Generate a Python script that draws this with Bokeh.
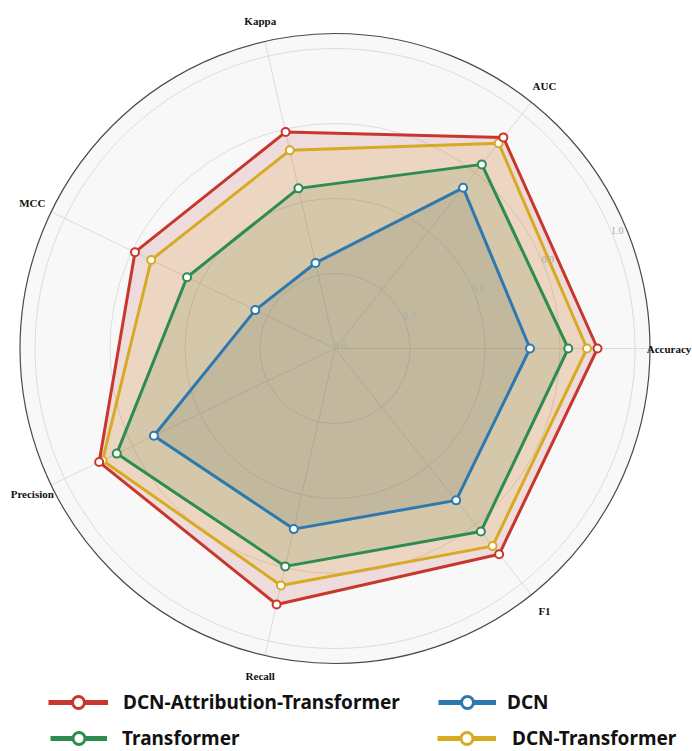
import math
from bokeh.plotting import figure
from bokeh.models import Range1d, Legend, LegendItem
from bokeh.core.properties import value
from bokeh.embed import file_html
from bokeh.resources import INLINE

# ---------------- data ----------------
categories = ["Accuracy", "AUC", "Kappa", "MCC", "Precision", "Recall", "F1"]
dcn_attr_transformer = [0.950, 0.960, 0.896, 0.896, 0.949, 0.950, 0.951]
dcn_transformer = [0.936, 0.950, 0.871, 0.872, 0.944, 0.924, 0.937]
transformer = [0.911, 0.914, 0.819, 0.819, 0.923, 0.898, 0.912]
dcn = [0.860, 0.874, 0.717, 0.718, 0.868, 0.847, 0.859]
r_ticks = [0.6, 0.7, 0.8, 0.9, 1.0]
r_tick_labels = ["0.6", "0.7", "0.8", "0.9", "1.0"]
r_min = 0.6
r_max = 1.02

# series: name, values, line colour, fill colour, fill alpha
series = [
    ("DCN-Attribution-Transformer", dcn_attr_transformer, "#c8372d", "#b73f3f", 0.15),
    ("DCN-Transformer", dcn_transformer, "#d7aa23", "#e1af28", 0.15),
    ("Transformer", transformer, "#2d8c50", "#547922", 0.15),
    ("DCN", dcn, "#2d78af", "#576467", 0.15),
]

W, H = 692, 751
SCALE = 750.0  # px per unit
cx, cy = 334.5, 348.0  # centre in figure pixels (from top-left)

p = figure(width=W, height=H, output_backend="svg", toolbar_location=None,
           x_range=Range1d(-cx / SCALE, (W - cx) / SCALE),
           y_range=Range1d(-(H - cy) / SCALE, cy / SCALE),
           min_border=0, min_border_left=0, min_border_right=0,
           min_border_top=0, min_border_bottom=0)
p.axis.visible = False
p.grid.visible = False
p.outline_line_color = None
p.background_fill_color = "white"
p.border_fill_color = "white"

n = len(categories)
angles = [2 * math.pi * i / n for i in range(n)]


def to_xy(vals):
    xs = [(v - r_min) * math.cos(a) for v, a in zip(vals, angles)]
    ys = [(v - r_min) * math.sin(a) for v, a in zip(vals, angles)]
    return xs, ys


R = r_max - r_min
# polar background
p.circle(x=[0], y=[0], radius=[R], fill_color="#f8f8f8", line_color=None)
# grid circles
grid_r = [t - r_min for t in r_ticks if t > r_min]
p.circle(x=[0] * len(grid_r), y=[0] * len(grid_r), radius=grid_r,
         fill_color=None, line_color="#dcdcdc", line_width=1)
# spokes
p.segment(x0=[0] * n, y0=[0] * n,
          x1=[R * math.cos(a) for a in angles], y1=[R * math.sin(a) for a in angles],
          line_color="#dcdcdc", line_width=1)
# outer frame
p.circle(x=[0], y=[0], radius=[R], fill_color=None, line_color="#4a4a4a", line_width=1.2)

# fills
for name, vals, lc, fc, fa in series:
    xs, ys = to_xy(vals)
    p.patch(xs, ys, fill_color=fc, fill_alpha=fa, line_color=None)

# lines + markers (red on top)
for name, vals, lc, fc, fa in reversed(series):
    xs, ys = to_xy(vals)
    p.line(xs + xs[:1], ys + ys[:1], line_color=lc, line_width=3)
    p.scatter(xs, ys, marker="circle", size=8, fill_color="white",
              line_color=lc, line_width=2)

# radial tick labels at 22.5 degrees
ta = math.radians(22.5)
p.text(x=[(t - r_min) * math.cos(ta) for t in r_ticks],
       y=[(t - r_min) * math.sin(ta) for t in r_ticks],
       text=r_tick_labels, text_align="center", text_baseline="middle",
       x_offset=5, y_offset=-3,
       text_font=value("Liberation Serif"), text_font_size="10px", text_color="#aaaaaa")

# category labels
LR = 336.0 / SCALE
xoffs = [-2 if c == "Accuracy" else 0 for c in categories]
p.text(x=[LR * math.cos(a) for a in angles], y=[LR * math.sin(a) for a in angles],
       text=categories, text_align="center", text_baseline="middle", x_offset=xoffs,
       text_font=value("Liberation Serif"), text_font_style="bold",
       text_font_size="11px", text_color="#111111")

# legend (separate legends for exact placement)
color_of = {s[0]: s[2] for s in series}
legend_specs = [
    ("DCN-Attribution-Transformer", 48, 34, 60, 15),
    ("DCN", 438, 34, 58, 11),
    ("Transformer", 50, -2, 57, 15),
    ("DCN-Transformer", 437, -2, 59, 16),
]
far = 100.0  # legend-only renderers sit far outside the visible ranges
for name, lx, ly, gw, st in legend_specs:
    c = color_of[name]
    lr = p.line([far, far + 1], [far, far], line_color=c, line_width=5)
    sr = p.scatter([far], [far], marker="circle", size=12, fill_color="white",
                   line_color=c, line_width=3)
    leg = Legend(items=[LegendItem(label=name, renderers=[lr, sr])],
                 location=(lx, ly), orientation="horizontal",
                 padding=0, margin=0, spacing=0,
                 border_line_color=None, background_fill_alpha=0,
                 glyph_width=gw, glyph_height=30, label_height=30,
                 label_standoff=st,
                 label_text_font="Noto Sans", label_text_font_size="19px",
                 label_text_font_style="bold", label_text_color="#111111")
    p.add_layout(leg)

open("out.html", "w").write(file_html(p, INLINE))
